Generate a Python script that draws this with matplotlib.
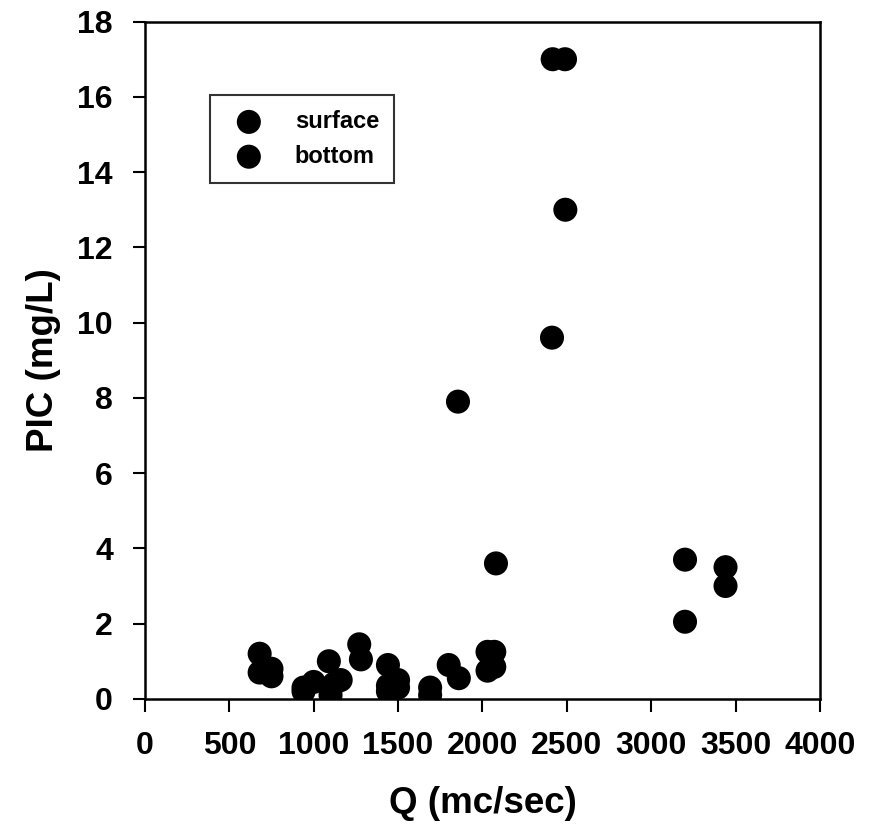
import matplotlib.pyplot as plt

plt.rcParams['font.family'] = ['Liberation Sans', 'DejaVu Sans']
plt.rcParams['font.weight'] = 'bold'

# discharge (m3/s) vs particulate inorganic carbon
q_surface = [680, 750, 940, 1090, 1270, 1440, 1690, 1800, 2030, 2070, 1855, 2416, 2489, 3200, 3440]
pic_surface = [1.2, 0.8, 0.3, 1.0, 1.45, 0.9, 0.3, 0.9, 1.25, 1.25, 7.9, 17.0, 17.0, 3.7, 3.5]

q_bottom = [680, 750, 1000, 1100, 1120, 1160, 1280, 1440, 1500, 1690, 1860,
            2030, 2070, 2080, 2412, 2491, 3200, 3440, 1440, 1500, 940]
pic_bottom = [0.7, 0.6, 0.45, 0.1, 0.4, 0.5, 1.05, 0.35, 0.5, 0.1, 0.55,
              0.75, 0.85, 3.6, 9.6, 13.0, 2.05, 3.0, 0.2, 0.3, 0.2]

x_ticks = [0, 500, 1000, 1500, 2000, 2500, 3000, 3500, 4000]
y_ticks = [0, 2, 4, 6, 8, 10, 12, 14, 16, 18]

fig = plt.figure(figsize=(8.78, 8.31), dpi=100)
ax = fig.add_axes([0.165, 0.159, 0.769, 0.815])

ax.scatter(q_surface, pic_surface, s=300, c='black', edgecolors='none', label='surface', zorder=3)
ax.scatter(q_bottom, pic_bottom, s=300, c='black', edgecolors='none', label='bottom', zorder=3)

ax.set_xlim(0, 4000)
ax.set_ylim(0, 18)
ax.set_xticks(x_ticks)
ax.set_yticks(y_ticks)
ax.tick_params(direction='out', length=9, width=1.5, labelsize=23, pad=14)
for sp in ax.spines.values():
    sp.set_linewidth(1.8)
    sp.set_color('black')

ax.set_xlabel('Q (mc/sec)', fontsize=26.5, fontweight='bold', labelpad=18)
ax.set_ylabel('PIC (mg/L)', fontsize=26.5, fontweight='bold', labelpad=12)

leg = ax.legend(loc='upper left', bbox_to_anchor=(0.0963, 0.892), borderaxespad=0,
                fontsize=17, frameon=True, fancybox=False, handlelength=2.0,
                handletextpad=0.95, borderpad=0.65, labelspacing=0.5, markerscale=1.0)
leg.get_frame().set_edgecolor('black')
leg.get_frame().set_linewidth(1.5)

fig.savefig('out.png', dpi=100)
